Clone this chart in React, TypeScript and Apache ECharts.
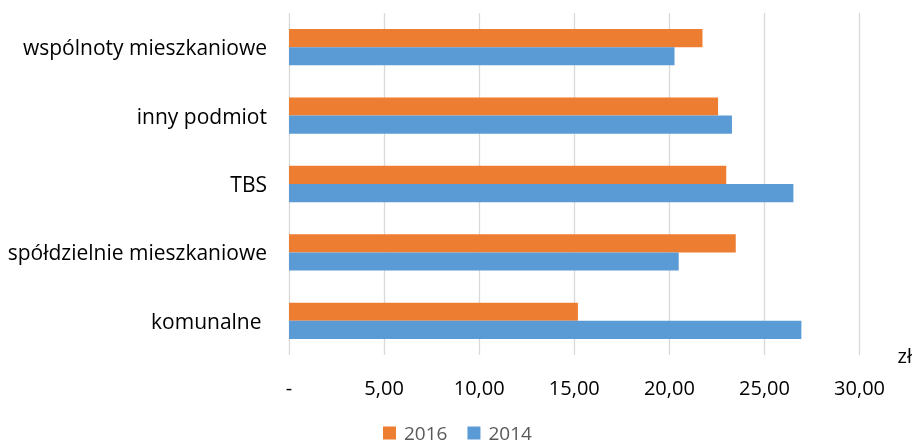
import React, { useEffect, useRef } from "react";
import * as echarts from "echarts";

const categories = [
  "komunalne ",
  "spółdzielnie mieszkaniowe",
  "TBS",
  "inny podmiot",
  "wspólnoty mieszkaniowe",
];
const values2016 = [15.19, 23.49, 22.99, 22.56, 21.74];
const values2014 = [26.94, 20.49, 26.52, 23.29, 20.27];
const xTicks = [0, 5, 10, 15, 20, 25, 30];

export default function App() {
  const ref = useRef<HTMLDivElement>(null);
  useEffect(() => {
    if (!ref.current) return;
    const chart = echarts.init(ref.current, undefined, { renderer: "svg" });
    const font = "'Open Sans', 'Noto Sans', sans-serif";
    chart.setOption({
      animation: false,
      textStyle: { fontFamily: font },
      grid: { left: 289, right: 48, top: 13, height: 342 },
      legend: {
        data: ["2016", "2014"],
        left: 378,
        top: 418,
        itemWidth: 13,
        itemHeight: 13,
        itemGap: 20,
        icon: "rect",
        textStyle: {
          fontSize: 19,
          lineHeight: 20,
          color: "#595959",
          fontFamily: font,
          padding: [0, 0, 0, 3],
        },
      },
      xAxis: {
        type: "value",
        min: xTicks[0],
        max: xTicks[xTicks.length - 1],
        interval: 5,
        name: "zł",
        nameLocation: "end",
        nameGap: 38,
        nameTextStyle: {
          fontSize: 20,
          color: "#000",
          align: "left",
          verticalAlign: "middle",
          padding: [12, 0, 0, 0],
        },
        axisLine: { show: false },
        axisTick: { show: false },
        splitLine: { show: true, lineStyle: { color: "#d9d9d9", width: 1.3 } },
        axisLabel: {
          fontSize: 20,
          color: "#000",
          margin: 22,
          formatter: (v: number) =>
            v === 0 ? "-" : v.toFixed(2).replace(".", ","),
        },
      },
      yAxis: {
        type: "category",
        data: categories,
        axisLine: { show: false },
        axisTick: { show: false },
        axisLabel: { fontSize: 21, color: "#000", margin: 22 },
      },
      series: [
        {
          name: "2016",
          type: "bar",
          data: values2016,
          itemStyle: { color: "#ED7D31" },
          barGap: "0%",
          barCategoryGap: "47%",
        },
        {
          name: "2014",
          type: "bar",
          data: values2014,
          itemStyle: { color: "#5B9BD5" },
          barGap: "0%",
          barCategoryGap: "47%",
        },
      ],
    });
    return () => chart.dispose();
  }, []);
  return (
    <div
      ref={ref}
      style={{ position: "fixed", left: 0, top: 0, width: 915, height: 445 }}
    />
  );
}
